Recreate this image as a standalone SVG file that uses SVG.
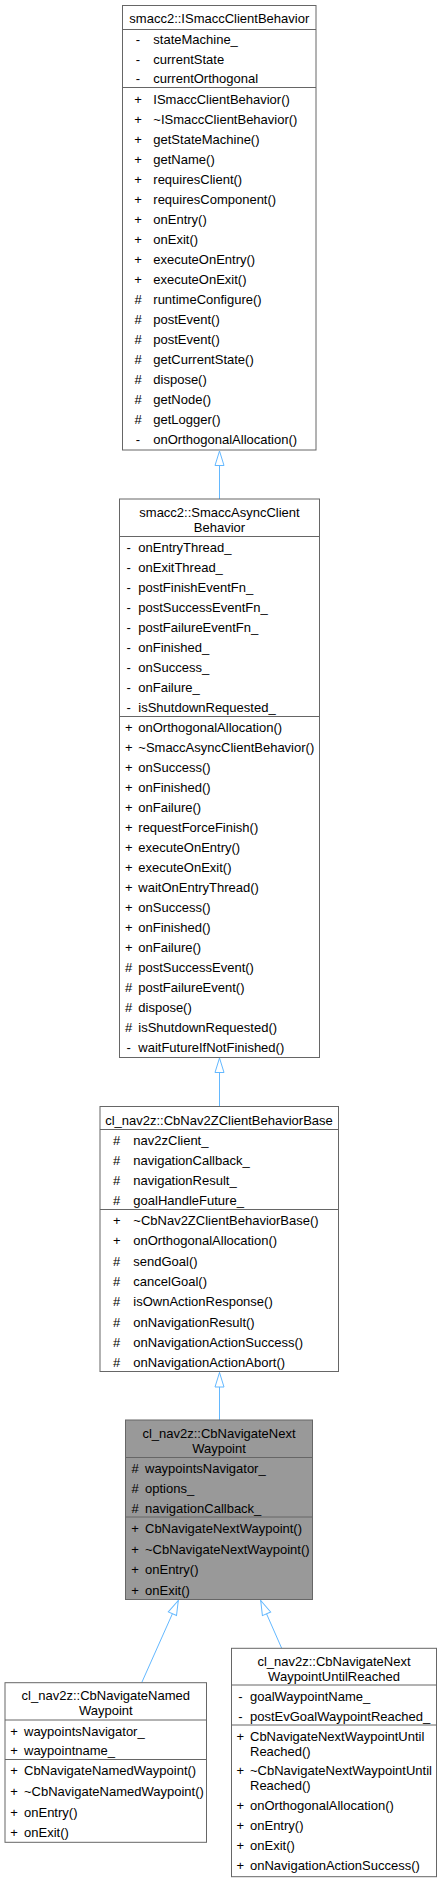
<svg xmlns="http://www.w3.org/2000/svg" width="442" height="1883" viewBox="0 0 442 1883">
<style>
text{font-family:"Liberation Sans",Arial,Helvetica,sans-serif;font-size:13px;fill:#000}
.t{text-anchor:middle}
.p{text-anchor:middle}
.box{fill:#fff;stroke:#666;stroke-width:1}
.cur{fill:#999;stroke:#666;stroke-width:1}
.sep{stroke:#666;stroke-width:1}
.edge{stroke:#63b8ff;stroke-width:1;fill:none;marker-end:url(#tri)}
</style>
<defs>
<marker id="tri" markerUnits="userSpaceOnUse" markerWidth="18" markerHeight="12" refX="15.5" refY="5.5" orient="auto">
<path d="M1,1 L15.5,5.5 L1,10 Z" fill="#fff" stroke="#63b8ff" stroke-width="1"/>
</marker>
</defs>
<rect width="442" height="1883" fill="#fff"/>
<g id="connectors">
<line class="edge" x1="219.5" y1="499" x2="219.5" y2="451"/>
<line class="edge" x1="219.5" y1="1106.5" x2="219.5" y2="1058"/>
<line class="edge" x1="219.5" y1="1420" x2="219.5" y2="1372.5"/>
<line class="edge" x1="141.7" y1="1682.7" x2="178.3" y2="1600.5"/>
<line class="edge" x1="281.7" y1="1648.3" x2="260.7" y2="1600.5"/>
</g>
<g id="ISmaccClientBehavior">
<rect class="box" x="122.5" y="5.5" width="193.5" height="444.5"/>
<line class="sep" x1="122.5" y1="29.5" x2="316" y2="29.5"/>
<line class="sep" x1="122.5" y1="87.5" x2="316" y2="87.5"/>
<text class="t" x="219.3" y="23.3">smacc2::ISmaccClientBehavior</text>
<g>
<text class="p" x="138" y="44.3">-</text><text x="153.3" y="44.3">stateMachine_</text>
<text class="p" x="138" y="63.8">-</text><text x="153.3" y="63.8">currentState</text>
<text class="p" x="138" y="83.3">-</text><text x="153.3" y="83.3">currentOrthogonal</text>
</g>
<g>
<text class="p" x="138" y="104">+</text><text x="153.3" y="104">ISmaccClientBehavior()</text>
<text class="p" x="138" y="124">+</text><text x="153.3" y="124">~ISmaccClientBehavior()</text>
<text class="p" x="138" y="144">+</text><text x="153.3" y="144">getStateMachine()</text>
<text class="p" x="138" y="164">+</text><text x="153.3" y="164">getName()</text>
<text class="p" x="138" y="184">+</text><text x="153.3" y="184">requiresClient()</text>
<text class="p" x="138" y="204">+</text><text x="153.3" y="204">requiresComponent()</text>
<text class="p" x="138" y="224">+</text><text x="153.3" y="224">onEntry()</text>
<text class="p" x="138" y="244">+</text><text x="153.3" y="244">onExit()</text>
<text class="p" x="138" y="264">+</text><text x="153.3" y="264">executeOnEntry()</text>
<text class="p" x="138" y="284">+</text><text x="153.3" y="284">executeOnExit()</text>
<text class="p" x="138" y="304">#</text><text x="153.3" y="304">runtimeConfigure()</text>
<text class="p" x="138" y="324">#</text><text x="153.3" y="324">postEvent()</text>
<text class="p" x="138" y="344">#</text><text x="153.3" y="344">postEvent()</text>
<text class="p" x="138" y="364">#</text><text x="153.3" y="364">getCurrentState()</text>
<text class="p" x="138" y="384">#</text><text x="153.3" y="384">dispose()</text>
<text class="p" x="138" y="404">#</text><text x="153.3" y="404">getNode()</text>
<text class="p" x="138" y="424">#</text><text x="153.3" y="424">getLogger()</text>
<text class="p" x="138" y="444">-</text><text x="153.3" y="444">onOrthogonalAllocation()</text>
</g>
</g>
<g id="SmaccAsyncClientBehavior">
<rect class="box" x="119.5" y="499" width="200" height="558.5"/>
<line class="sep" x1="119.5" y1="536.5" x2="319.5" y2="536.5"/>
<line class="sep" x1="119.5" y1="716.5" x2="319.5" y2="716.5"/>
<text class="t" x="219.5" y="517">smacc2::SmaccAsyncClient</text>
<text class="t" x="219.5" y="532">Behavior</text>
<g>
<text class="p" x="128.7" y="551.5">-</text><text x="138.3" y="551.5">onEntryThread_</text>
<text class="p" x="128.7" y="571.5">-</text><text x="138.3" y="571.5">onExitThread_</text>
<text class="p" x="128.7" y="591.5">-</text><text x="138.3" y="591.5">postFinishEventFn_</text>
<text class="p" x="128.7" y="611.5">-</text><text x="138.3" y="611.5">postSuccessEventFn_</text>
<text class="p" x="128.7" y="631.5">-</text><text x="138.3" y="631.5">postFailureEventFn_</text>
<text class="p" x="128.7" y="651.5">-</text><text x="138.3" y="651.5">onFinished_</text>
<text class="p" x="128.7" y="671.5">-</text><text x="138.3" y="671.5">onSuccess_</text>
<text class="p" x="128.7" y="691.5">-</text><text x="138.3" y="691.5">onFailure_</text>
<text class="p" x="128.7" y="711.5">-</text><text x="138.3" y="711.5">isShutdownRequested_</text>
</g>
<g>
<text class="p" x="128.7" y="731.5">+</text><text x="138.3" y="731.5">onOrthogonalAllocation()</text>
<text class="p" x="128.7" y="751.5">+</text><text x="138.3" y="751.5">~SmaccAsyncClientBehavior()</text>
<text class="p" x="128.7" y="771.5">+</text><text x="138.3" y="771.5">onSuccess()</text>
<text class="p" x="128.7" y="791.5">+</text><text x="138.3" y="791.5">onFinished()</text>
<text class="p" x="128.7" y="811.5">+</text><text x="138.3" y="811.5">onFailure()</text>
<text class="p" x="128.7" y="831.5">+</text><text x="138.3" y="831.5">requestForceFinish()</text>
<text class="p" x="128.7" y="851.5">+</text><text x="138.3" y="851.5">executeOnEntry()</text>
<text class="p" x="128.7" y="871.5">+</text><text x="138.3" y="871.5">executeOnExit()</text>
<text class="p" x="128.7" y="891.5">+</text><text x="138.3" y="891.5">waitOnEntryThread()</text>
<text class="p" x="128.7" y="911.5">+</text><text x="138.3" y="911.5">onSuccess()</text>
<text class="p" x="128.7" y="931.5">+</text><text x="138.3" y="931.5">onFinished()</text>
<text class="p" x="128.7" y="951.5">+</text><text x="138.3" y="951.5">onFailure()</text>
<text class="p" x="128.7" y="971.5">#</text><text x="138.3" y="971.5">postSuccessEvent()</text>
<text class="p" x="128.7" y="991.5">#</text><text x="138.3" y="991.5">postFailureEvent()</text>
<text class="p" x="128.7" y="1011.5">#</text><text x="138.3" y="1011.5">dispose()</text>
<text class="p" x="128.7" y="1031.5">#</text><text x="138.3" y="1031.5">isShutdownRequested()</text>
<text class="p" x="128.7" y="1051.5">-</text><text x="138.3" y="1051.5">waitFutureIfNotFinished()</text>
</g>
</g>
<g id="CbNav2ZClientBehaviorBase">
<rect class="box" x="100" y="1106.5" width="238.5" height="265"/>
<line class="sep" x1="100" y1="1129.5" x2="338.5" y2="1129.5"/>
<line class="sep" x1="100" y1="1209.5" x2="338.5" y2="1209.5"/>
<text class="t" x="219" y="1124.5">cl_nav2z::CbNav2ZClientBehaviorBase</text>
<g>
<text class="p" x="116.7" y="1144.7">#</text><text x="133.3" y="1144.7">nav2zClient_</text>
<text class="p" x="116.7" y="1164.7">#</text><text x="133.3" y="1164.7">navigationCallback_</text>
<text class="p" x="116.7" y="1184.7">#</text><text x="133.3" y="1184.7">navigationResult_</text>
<text class="p" x="116.7" y="1204.7">#</text><text x="133.3" y="1204.7">goalHandleFuture_</text>
</g>
<g>
<text class="p" x="116.7" y="1225">+</text><text x="133.3" y="1225">~CbNav2ZClientBehaviorBase()</text>
<text class="p" x="116.7" y="1245.3">+</text><text x="133.3" y="1245.3">onOrthogonalAllocation()</text>
<text class="p" x="116.7" y="1265.6">#</text><text x="133.3" y="1265.6">sendGoal()</text>
<text class="p" x="116.7" y="1285.9">#</text><text x="133.3" y="1285.9">cancelGoal()</text>
<text class="p" x="116.7" y="1306.2">#</text><text x="133.3" y="1306.2">isOwnActionResponse()</text>
<text class="p" x="116.7" y="1326.5">#</text><text x="133.3" y="1326.5">onNavigationResult()</text>
<text class="p" x="116.7" y="1346.8">#</text><text x="133.3" y="1346.8">onNavigationActionSuccess()</text>
<text class="p" x="116.7" y="1367.1">#</text><text x="133.3" y="1367.1">onNavigationActionAbort()</text>
</g>
</g>
<g id="CbNavigateNextWaypoint">
<rect class="cur" x="125.5" y="1420" width="187" height="179.5"/>
<line class="sep" x1="125.5" y1="1457.5" x2="312.5" y2="1457.5"/>
<line class="sep" x1="125.5" y1="1517" x2="312.5" y2="1517"/>
<text class="t" x="219" y="1437.5">cl_nav2z::CbNavigateNext</text>
<text class="t" x="219" y="1452.5">Waypoint</text>
<g>
<text class="p" x="135" y="1472.8">#</text><text x="145" y="1472.8">waypointsNavigator_</text>
<text class="p" x="135" y="1492.7">#</text><text x="145" y="1492.7">options_</text>
<text class="p" x="135" y="1512.6">#</text><text x="145" y="1512.6">navigationCallback_</text>
</g>
<g>
<text class="p" x="135" y="1533">+</text><text x="145" y="1533">CbNavigateNextWaypoint()</text>
<text class="p" x="135" y="1553.6">+</text><text x="145" y="1553.6">~CbNavigateNextWaypoint()</text>
<text class="p" x="135" y="1574.2">+</text><text x="145" y="1574.2">onEntry()</text>
<text class="p" x="135" y="1594.8">+</text><text x="145" y="1594.8">onExit()</text>
</g>
</g>
<g id="CbNavigateNamedWaypoint">
<rect class="box" x="5" y="1682.7" width="201.5" height="159.6"/>
<line class="sep" x1="5" y1="1720" x2="206.5" y2="1720"/>
<line class="sep" x1="5" y1="1759.5" x2="206.5" y2="1759.5"/>
<text class="t" x="105.8" y="1700">cl_nav2z::CbNavigateNamed</text>
<text class="t" x="105.8" y="1715">Waypoint</text>
<g>
<text class="p" x="14" y="1735.5">+</text><text x="24" y="1735.5">waypointsNavigator_</text>
<text class="p" x="14" y="1755">+</text><text x="24" y="1755">waypointname_</text>
</g>
<g>
<text class="p" x="14" y="1775.2">+</text><text x="24" y="1775.2">CbNavigateNamedWaypoint()</text>
<text class="p" x="14" y="1796">+</text><text x="24" y="1796">~CbNavigateNamedWaypoint()</text>
<text class="p" x="14" y="1816.7">+</text><text x="24" y="1816.7">onEntry()</text>
<text class="p" x="14" y="1837.4">+</text><text x="24" y="1837.4">onExit()</text>
</g>
</g>
<g id="CbNavigateNextWaypointUntilReached">
<rect class="box" x="231.5" y="1648.3" width="205" height="228.4"/>
<line class="sep" x1="231.5" y1="1685" x2="436.5" y2="1685"/>
<line class="sep" x1="231.5" y1="1725" x2="436.5" y2="1725"/>
<text class="t" x="334" y="1666">cl_nav2z::CbNavigateNext</text>
<text class="t" x="334" y="1681">WaypointUntilReached</text>
<g>
<text class="p" x="240.3" y="1700.7">-</text><text x="250" y="1700.7">goalWaypointName_</text>
<text class="p" x="240.3" y="1720.5">-</text><text x="250" y="1720.5">postEvGoalWaypointReached_</text>
</g>
<g>
<text class="p" x="240.3" y="1741">+</text><text x="250" y="1741">CbNavigateNextWaypointUntil</text>
<text x="250" y="1756">Reached()</text>
<text class="p" x="240.3" y="1775">+</text><text x="250" y="1775">~CbNavigateNextWaypointUntil</text>
<text x="250" y="1790">Reached()</text>
<text class="p" x="240.3" y="1810">+</text><text x="250" y="1810">onOrthogonalAllocation()</text>
<text class="p" x="240.3" y="1830">+</text><text x="250" y="1830">onEntry()</text>
<text class="p" x="240.3" y="1850">+</text><text x="250" y="1850">onExit()</text>
<text class="p" x="240.3" y="1870">+</text><text x="250" y="1870">onNavigationActionSuccess()</text>
</g>
</g>
</svg>
